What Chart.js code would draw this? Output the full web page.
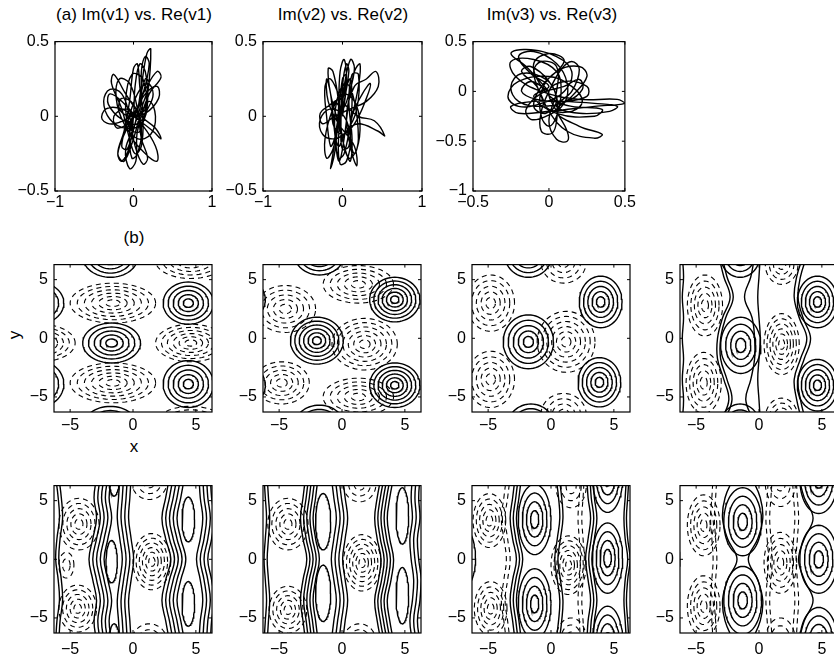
<!DOCTYPE html>
<html>
<head>
<meta charset="utf-8">
<script src="https://cdn.jsdelivr.net/npm/chart.js@4.4.1/dist/chart.umd.min.js"></script>
<style>
  html, body { margin: 0; padding: 0; background: #fff; overflow: hidden; }
  #fig { position: relative; width: 834px; height: 662px; font-family: 'Liberation Sans', Arial, sans-serif; color: #000; }
  .lbl { position: absolute; font-size: 17px; white-space: nowrap; transform: translate(-50%, -50%); }
  canvas { position: absolute; }
</style>
</head>
<body>
<div id="fig">
  <div class="lbl" style="left:134px;top:15px">(a) Im(v1) vs. Re(v1)</div>
  <div class="lbl" style="left:343px;top:15px">Im(v2) vs. Re(v2)</div>
  <div class="lbl" style="left:552px;top:15px">Im(v3) vs. Re(v3)</div>
  <div class="lbl" style="left:134px;top:238px">(b)</div>
  <div class="lbl" style="left:15px;top:335px;transform:translate(-50%,-50%) rotate(-90deg)">y</div>
  <div class="lbl" style="left:134px;top:447px">x</div>
</div>
<script>
// ---- (a) phase portraits: Re / Im samples ----
const re1 = [0.00,0.15,0.12,-0.02,-0.10,-0.05,0.08,0.18,0.22,0.17,0.10,0.02,-0.10,-0.05,0.03,0.05,0.20,0.35,0.30,0.15,0.00,-0.25,-0.40,-0.35,-0.15,0.05,0.25,0.35,0.28,0.10,-0.10,-0.25,-0.28,-0.15,-0.05,0.02,0.10,0.12,0.08,0.05,0.00,-0.05,-0.12,-0.20,-0.12,0.00,0.10,0.20,0.15,0.05,-0.05,0.15,0.30,0.28,0.10,-0.15,-0.30,-0.32,-0.15,0.05,0.18,0.25,0.18,0.05,-0.08,-0.15,-0.08,0.02,0.10,0.10,0.15,0.20,0.12,0.00,-0.20,-0.25,-0.10,0.05,
  0.20,0.28,0.22,0.05,-0.12,-0.22,-0.18,-0.05,0.05,0.10,0.18,0.12,0.02,-0.05,-0.15,-0.30,-0.38,-0.30,-0.10,0.10,0.18,0.15,0.08,0.02,0.00,-0.05,-0.15,-0.20,-0.10,0.05,0.15,0.30,0.32,0.15,-0.05,-0.18,-0.15,0.00,0.10,0.05,-0.02,-0.05,0.00];
const im1 = [0.00,0.05,0.25,0.28,0.10,-0.08,-0.10,0.15,0.45,0.42,0.20,-0.05,-0.22,-0.35,-0.30,-0.10,0.15,0.26,0.30,0.18,0.02,-0.05,-0.02,0.05,0.05,-0.02,-0.10,-0.15,-0.08,0.00,0.15,0.28,0.22,0.05,-0.15,-0.25,-0.20,0.00,0.20,0.35,0.32,0.10,-0.10,-0.25,-0.30,-0.15,0.05,0.22,0.25,0.05,-0.10,-0.25,-0.30,-0.20,-0.05,0.10,0.15,0.08,-0.02,-0.05,0.05,0.15,0.22,0.15,-0.05,-0.20,-0.22,-0.05,0.10,0.30,0.40,0.35,0.15,0.00,-0.08,0.00,0.05,0.00,
  0.10,0.00,-0.12,-0.15,-0.05,0.12,0.25,0.22,0.05,-0.15,-0.28,-0.32,-0.20,0.00,0.15,0.18,0.10,-0.02,-0.08,-0.05,0.10,0.30,0.35,0.20,0.00,-0.20,-0.30,-0.25,-0.10,0.05,0.15,0.20,0.12,0.02,0.00,0.05,0.12,0.08,-0.08,-0.25,-0.28,-0.12,0.00];
const re2 = [0.00,0.05,0.02,-0.03,-0.05,-0.08,-0.04,0.02,0.08,0.15,0.22,0.20,0.10,0.02,-0.05,-0.10,-0.15,-0.20,-0.18,-0.05,0.15,0.18,0.12,0.05,0.15,0.30,0.42,0.45,0.30,0.10,-0.10,-0.25,-0.28,-0.15,0.00,0.05,0.00,-0.05,-0.10,-0.15,-0.12,-0.05,0.05,0.10,0.12,0.10,0.15,0.20,0.15,0.05,-0.05,-0.10,-0.05,0.05,0.20,0.45,0.53,0.40,0.20,0.00,-0.15,-0.22,-0.20,-0.15,-0.10,0.00,0.08,0.05,0.00,-0.02,0.00,0.08,0.12,0.25,0.35,0.30,0.15,0.00,-0.12,-0.10,0.00,
  0.08,0.15,0.10,0.02,-0.05,-0.12,-0.20,-0.22,-0.12,0.00,0.15,0.22,0.18,0.08,0.00,-0.05,-0.12,-0.18,-0.15,-0.05,0.05,0.10,0.12,0.08,0.12,0.20,0.18,0.05,-0.10,-0.25,-0.28,-0.15,0.02,0.10,0.05,-0.03,-0.05,0.00,0.05,0.00];
const im2 = [0.00,0.25,0.38,0.30,0.05,-0.20,-0.30,-0.15,0.10,0.30,0.35,0.20,-0.05,-0.25,-0.28,-0.10,0.15,0.25,0.10,-0.05,-0.20,-0.33,-0.25,0.00,0.20,0.25,0.30,0.20,0.10,0.05,0.00,-0.05,0.02,0.08,0.15,0.28,0.25,0.00,-0.25,-0.35,-0.25,0.00,0.20,0.25,0.10,-0.15,-0.25,-0.15,0.10,0.22,0.15,-0.05,-0.20,-0.10,-0.05,-0.10,-0.13,-0.03,0.00,0.10,0.25,0.20,0.00,-0.20,-0.15,0.05,0.30,0.35,0.20,-0.10,-0.22,-0.20,0.00,0.15,0.22,0.12,-0.05,-0.12,-0.05,0.10,0.05,
  0.15,0.32,0.38,0.20,-0.05,-0.22,-0.28,-0.15,0.05,0.15,0.10,-0.05,-0.22,-0.28,-0.15,0.10,0.30,0.32,0.15,-0.05,-0.25,-0.30,-0.15,0.10,0.28,0.28,0.05,-0.10,-0.15,-0.12,-0.02,0.05,0.00,-0.15,-0.30,-0.32,-0.15,0.10,0.20,0.00];
const re3 = [0.00,-0.15,-0.25,-0.15,0.05,0.15,0.10,-0.05,-0.20,-0.27,-0.20,0.00,0.15,0.22,0.15,0.00,-0.05,-0.10,-0.05,0.05,0.05,0.00,0.05,0.12,0.12,0.05,0.00,0.10,0.25,0.25,0.10,-0.10,-0.25,-0.20,0.00,0.30,0.50,0.45,0.20,-0.05,-0.22,-0.25,-0.10,0.05,0.08,0.05,0.00,-0.05,-0.05,0.05,0.20,0.25,0.15,0.05,0.20,0.35,0.30,0.12,0.00,-0.08,-0.18,-0.12,0.00,0.05,-0.02,-0.10,-0.05,0.10,0.00,-0.10,-0.05,0.05,0.15,0.35,0.30,0.05,-0.10,0.00,
  -0.12,-0.20,-0.10,0.05,0.12,0.10,-0.02,-0.12,-0.15,-0.05,0.10,0.20,0.22,0.12,-0.05,-0.20,-0.25,-0.18,-0.02,0.05,0.05,0.02,-0.05,-0.05,0.00,0.08,0.15,0.20,0.15,0.05,0.20,0.40,0.45,0.30,0.10,-0.08,-0.18,-0.12,0.00];
const im3 = [0.00,0.25,0.38,0.42,0.35,0.20,0.00,-0.12,-0.15,-0.05,0.10,0.15,0.05,-0.10,-0.20,-0.18,-0.05,0.20,0.30,0.25,0.00,-0.30,-0.48,-0.50,-0.40,-0.20,0.00,0.10,0.05,-0.05,-0.10,-0.10,-0.15,-0.22,-0.20,-0.15,-0.12,-0.08,-0.08,0.00,0.15,0.30,0.32,0.20,0.00,-0.25,-0.35,-0.25,0.00,0.20,0.25,0.15,-0.05,-0.20,-0.35,-0.43,-0.47,-0.40,-0.20,0.05,0.20,0.25,0.10,-0.10,-0.22,-0.15,0.05,0.30,0.38,0.28,0.05,-0.10,-0.15,-0.18,-0.25,-0.22,-0.05,0.05,
  0.18,0.35,0.40,0.28,0.08,-0.12,-0.25,-0.28,-0.18,-0.02,0.05,0.12,0.02,-0.10,-0.15,-0.10,0.05,0.18,0.12,-0.05,-0.30,-0.42,-0.40,-0.20,0.00,0.22,0.30,0.22,0.00,-0.15,-0.22,-0.20,-0.15,-0.12,-0.10,-0.08,0.00,0.10,0.00];

// ---- (b) contour panels ----
// closed families: [cx, cy, rxOuter, ryOuter, levels, dashed]
// bands: [x at each yKnot, offsets of the parallel lines, dashed]
const yKnots = [-7, -5.25, -3.5, -1.75, 0, 1.75, 3.5, 5.25, 7];

const cellsB1 = [
  [-1.7,-0.4,2.3,1.7,5,0],[4.4,3.0,2.0,1.8,5,0],[4.4,-3.9,2.0,2.0,5,0],
  [-1.8,7.0,2.2,1.8,5,0],[-1.8,-7.6,2.2,1.8,5,0],[-7.6,3.0,2.1,1.8,5,0],[-7.6,-3.9,2.1,2.0,5,0],
  [-1.6,3.0,3.4,1.7,6,1],[-1.6,-3.8,3.4,1.7,6,1],[4.6,-0.4,2.8,1.6,6,1],
  [-7.4,-0.4,2.8,1.6,6,1],[4.6,6.6,2.8,1.5,5,1],[4.6,-7.3,2.8,1.5,5,1]
];
const bandsB1 = [];

const cellsB2 = [
  [-2.0,-0.2,2.1,2.0,6,0],[4.2,3.3,2.0,1.9,6,0],[4.2,-4.0,2.0,1.9,6,0],
  [-1.8,7.2,2.0,1.8,5,0],[-1.8,-7.5,2.0,1.8,5,0],[-8.3,3.3,2.2,2.0,5,0],[-8.3,-4.0,2.2,2.0,5,0],
  [1.8,-0.5,2.6,2.2,6,1],[-4.5,2.5,2.4,2.0,5,1],[-4.8,-3.8,2.2,1.8,5,1],
  [1.3,4.6,2.8,1.6,5,1],[1.3,-5.0,2.8,1.6,5,1]
];
const bandsB2 = [];

const cellsB3 = [
  [-1.8,-0.3,2.0,2.3,5,0],[3.95,3.1,1.7,2.2,5,0],[3.85,-3.75,1.7,2.1,5,0],
  [-1.8,7.2,1.9,2.0,5,0],[-1.6,-7.6,1.9,2.0,5,0],[-8.4,3.1,2.0,2.2,4,0],[-8.4,-3.8,2.0,2.2,4,0],
  [1.2,-0.3,2.3,2.6,6,1],[-4.8,3.0,1.9,2.4,5,1],[-4.8,-3.5,1.9,2.4,5,1],
  [1.0,6.5,1.8,1.8,4,1],[1.0,-6.5,1.8,1.8,4,1]
];
const bandsB3 = [];

const cellsB4 = [
  [-1.45,-0.6,1.6,2.4,4,0],[4.65,3.1,1.6,2.2,5,0],[4.65,-4.0,1.6,2.2,5,0],
  [-1.5,7.2,1.6,2.0,4,0],[-1.5,-7.6,1.6,2.0,4,0],
  [1.8,-0.5,1.4,2.6,6,1],[-4.3,2.8,1.4,2.6,5,1],[-4.4,-3.8,1.4,2.6,5,1],
  [1.8,6.3,1.3,1.7,4,1],[1.8,-6.8,1.3,1.7,4,1]
];
const bandsB4 = [
  [[0.1,0.0,-0.1,0.0,0.1,0.0,-0.1,0.0,0.1],[0],0],
  [[-6.1,-6.0,-6.1,-6.0,-6.1,-6.0,-6.1,-6.0,-6.1],[0],0],
  [[-3.0,-2.4,-2.8,-3.3,-3.3,-2.9,-2.3,-2.8,-3.2],[0,0.25],0],
  [[-0.2,-0.8,-0.4,-0.1,-0.1,-0.3,-0.9,-0.4,-0.1],[-0.25],0],
  [[3.4,3.0,2.8,3.3,3.8,3.2,2.8,3.0,3.5],[0,0.3],0]
];

const cellsC1 = [
  [-1.7,-0.2,0.45,1.8,1,0],[-1.5,6.9,0.4,1.5,1,0],[-1.5,-7.0,0.4,1.5,1,0],
  [4.4,3.4,0.5,1.9,1,0],[4.4,-3.8,0.5,1.9,1,0],
  [-4.3,3.0,1.6,2.2,5,1],[-4.4,-4.2,1.5,2.0,5,1],[1.5,-0.2,1.5,2.4,6,1],
  [1.3,6.6,1.4,1.5,3,1],[1.3,-7.0,1.4,1.5,3,1],[-5.3,-0.5,0.6,1.1,2,1]
];
const bandsC1 = [
  [[-6.0,-5.9,-5.7,-5.8,-6.0,-5.9,-5.7,-5.8,-6.0],[-0.15,0.1],0],
  [[-2.3,-2.5,-2.3,-2.6,-2.9,-2.6,-2.3,-2.5,-2.3],[-0.6,-0.3,0,0.3,0.6],0],
  [[-0.6,-0.7,-0.8,-0.6,-0.4,-0.6,-0.8,-0.7,-0.6],[-0.45,-0.15,0.15,0.45],0],
  [[3.5,3.2,2.9,3.2,3.6,3.2,2.9,3.2,3.5],[-0.6,-0.3,0,0.3,0.6],0],
  [[5.7,5.8,6.0,5.8,5.5,5.8,6.0,5.8,5.7],[-0.45,-0.15,0.15,0.45],0]
];

const cellsC2 = [
  [-1.5,3.2,0.6,2.4,1,0],[-1.5,-2.9,0.6,2.4,1,0],
  [4.8,3.7,0.5,2.4,1,0],[4.8,-3.1,0.5,2.4,1,0],
  [-4.3,3.0,1.6,2.2,5,1],[-4.3,-4.3,1.5,2.0,5,1],[1.6,-0.3,1.5,2.4,6,1],
  [1.4,6.4,1.3,1.5,3,1],[1.4,-7.0,1.3,1.5,3,1]
];
const bandsC2 = [
  [[-6.1,-6.0,-5.9,-6.0,-6.1,-6.0,-5.9,-6.0,-6.1],[-0.1,0.15],0],
  [[-2.4,-2.6,-2.8,-2.6,-2.3,-2.6,-2.8,-2.6,-2.4],[-0.5,-0.25,0,0.25,0.5],0],
  [[-0.4,-0.2,0.0,-0.2,-0.4,-0.2,0.0,-0.2,-0.4],[-0.45,-0.15,0.15,0.45],0],
  [[3.6,3.3,3.1,3.4,3.6,3.3,3.1,3.3,3.6],[-0.5,-0.25,0,0.25,0.5],0],
  [[5.9,5.7,5.9,6.0,5.8,5.7,5.9,5.8,5.9],[-0.3,0,0.3],0]
];

const cellsC3 = [
  [-1.3,3.4,1.3,3.0,4,0],[-1.3,-3.8,1.3,3.0,4,0],
  [4.5,0.1,1.2,3.0,4,0],[4.5,7.0,1.2,3.0,4,0],[4.5,-7.0,1.2,3.0,4,0],[-7.4,0.1,1.4,3.0,3,0],
  [-4.9,3.3,1.3,2.3,5,1],[-4.8,-4.2,1.3,2.3,5,1],[1.4,-0.5,1.4,2.5,6,1],
  [1.6,6.2,1.2,1.8,3,1],[1.6,-6.8,1.2,1.8,3,1]
];
const bandsC3 = [
  [[-2.6,-2.8,-3.0,-2.8,-2.5,-2.8,-3.0,-2.8,-2.6],[-0.25,0,0.25],0],
  [[0.4,0.6,0.7,0.5,0.3,0.5,0.7,0.6,0.4],[0,0.25],0],
  [[3.1,3.2,3.4,3.2,3.0,3.2,3.4,3.2,3.1],[-0.25,0,0.25],0],
  [[6.0,5.9,5.8,5.9,6.1,5.9,5.8,5.9,6.0],[0,0.2],0],
  [[-3.4,-3.6,-3.8,-3.6,-3.4,-3.6,-3.8,-3.6,-3.4],[-0.15,0.15],1],
  [[2.5,2.4,2.3,2.4,2.5,2.4,2.3,2.4,2.5],[-0.15,0.15],1]
];

const cellsC4 = [
  [-1.3,3.2,1.5,2.9,4,0],[-1.3,-3.5,1.5,2.9,4,0],
  [4.75,0.0,1.5,2.9,4,0],[4.75,6.8,1.5,2.9,4,0],[4.75,-7.0,1.5,2.9,4,0],[-7.8,0.0,1.5,2.9,3,0],
  [-4.4,2.9,1.3,2.6,5,1],[-4.4,-4.0,1.3,2.6,5,1],[1.7,-0.3,1.3,2.6,5,1],
  [1.7,6.5,1.2,2.0,3,1],[1.7,-7.0,1.2,2.0,3,1]
];
const bandsC4 = [
  [[-2.0,-2.7,-2.9,-2.5,-1.75,-2.5,-2.9,-2.7,-2.0],[0],0],
  [[-0.6,0.1,0.3,-0.1,-0.85,-0.1,0.3,0.1,-0.6],[0],0],
  [[3.15,3.6,4.3,3.6,3.15,3.6,4.3,3.6,3.15],[0],0],
  [[-3.5,-3.6,-3.7,-3.6,-3.5,-3.6,-3.7,-3.6,-3.5],[-0.15,0.15],1],
  [[0.9,0.8,0.7,0.8,0.9,0.8,0.7,0.8,0.9],[-0.15,0.15],1],
  [[2.8,2.9,3.0,2.9,2.8,2.9,3.0,2.9,2.8],[-0.15,0.15],1]
];

const PI2 = 2 * Math.PI;

function traceSet(re, im) {
  return [{
    data: re.map((x, i) => ({ x: x, y: im[i] })),
    showLine: true, borderColor: '#000', borderWidth: 1.4, tension: 0.4, pointRadius: 0
  }];
}

function contourSets(cells, bands) {
  const sets = [];
  cells.forEach(c => {
    const [cx, cy, rx, ry, n, dashed] = c;
    for (let k = 1; k <= n; k++) {
      const pts = [];
      for (let i = 0; i <= 64; i++) {
        const t = i / 64 * PI2;
        pts.push({ x: cx + rx * k / n * Math.cos(t), y: cy + ry * k / n * Math.sin(t) });
      }
      sets.push({
        data: pts, showLine: true, borderColor: '#000', pointRadius: 0, tension: 0,
        borderWidth: dashed ? 1.1 : 1.4, borderDash: dashed ? [5, 4] : []
      });
    }
  });
  bands.forEach(b => {
    const [knots, offsets, dashed] = b;
    offsets.forEach(off => {
      sets.push({
        data: knots.map((x, i) => ({ x: x + off, y: yKnots[i] })),
        showLine: true, borderColor: '#000', pointRadius: 0, tension: 0.4,
        borderWidth: dashed ? 1.1 : 1.4, borderDash: dashed ? [5, 4] : []
      });
    });
  });
  return sets;
}

// frame plus small inward ticks on all four sides
const boxPlugin = {
  id: 'box',
  afterDraw(chart) {
    const { ctx, chartArea: a, scales } = chart;
    ctx.save();
    ctx.strokeStyle = '#000';
    ctx.lineWidth = 1.2;
    ctx.strokeRect(a.left, a.top, a.right - a.left, a.bottom - a.top);
    ctx.lineWidth = 1;
    ctx.beginPath();
    scales.x.ticks.forEach(t => {
      const px = scales.x.getPixelForValue(t.value);
      ctx.moveTo(px, a.bottom); ctx.lineTo(px, a.bottom - 3);
      ctx.moveTo(px, a.top); ctx.lineTo(px, a.top + 3);
    });
    scales.y.ticks.forEach(t => {
      const py = scales.y.getPixelForValue(t.value);
      ctx.moveTo(a.left, py); ctx.lineTo(a.left + 3, py);
      ctx.moveTo(a.right, py); ctx.lineTo(a.right - 3, py);
    });
    ctx.stroke();
    ctx.restore();
  }
};

const fmt = v => String(v).replace('-', '\u2212');

function makePanel(box, xr, yr, xt, yt, datasets, xPad) {
  const L = 52, T = 8, R = 8, B = 30;
  const canvas = document.createElement('canvas');
  canvas.width = box[2] + L + R;
  canvas.height = box[3] + T + B;
  canvas.style.left = (box[0] - L) + 'px';
  canvas.style.top = (box[1] - T) + 'px';
  document.getElementById('fig').appendChild(canvas);

  const tickFont = { family: "'Liberation Sans', Arial, sans-serif", size: 16 };
  new Chart(canvas, {
    type: 'scatter',
    data: { datasets: datasets },
    options: {
      responsive: false,
      animation: false,
      events: [],
      layout: { padding: { top: T, right: R, left: 0, bottom: 0 } },
      plugins: { legend: { display: false }, tooltip: { enabled: false } },
      scales: {
        x: {
          min: xr[0], max: xr[1],
          grid: { display: false, drawTicks: false },
          border: { display: false },
          ticks: { color: '#000', font: tickFont, padding: xPad, maxRotation: 0, callback: fmt },
          afterBuildTicks: s => { s.ticks = xt.map(v => ({ value: v })); },
          afterFit: s => { s.height = B; }
        },
        y: {
          min: yr[0], max: yr[1],
          grid: { display: false, drawTicks: false },
          border: { display: false },
          ticks: { color: '#000', font: tickFont, padding: 6, callback: fmt },
          afterBuildTicks: s => { s.ticks = yt.map(v => ({ value: v })); },
          afterFit: s => { s.width = L; }
        }
      }
    },
    plugins: [boxPlugin]
  });
}

// row (a)
makePanel([55, 34, 157, 157], [-1, 1], [-0.5, 0.5], [-1, 0, 1], [-0.5, 0, 0.5], traceSet(re1, im1), 2);
makePanel([263, 34, 159, 157], [-1, 1], [-0.5, 0.5], [-1, 0, 1], [-0.5, 0, 0.5], traceSet(re2, im2), 2);
makePanel([473, 34, 157, 157], [-0.5, 0.5], [-1, 0.5], [-0.5, 0, 0.5], [-1, -0.5, 0, 0.5], traceSet(re3, im3), 2);

// rows (b)
const dom = [-PI2, PI2];
const tk = [-5, 0, 5];
const colX = [54, 263, 472, 680];
const rowB = [[cellsB1, bandsB1], [cellsB2, bandsB2], [cellsB3, bandsB3], [cellsB4, bandsB4]];
const rowC = [[cellsC1, bandsC1], [cellsC2, bandsC2], [cellsC3, bandsC3], [cellsC4, bandsC4]];
rowB.forEach((p, i) => makePanel([colX[i], 257, 158, 155], dom, dom, tk, tk, contourSets(p[0], p[1]), 4));
rowC.forEach((p, i) => makePanel([colX[i], 478, 158, 155], dom, dom, tk, tk, contourSets(p[0], p[1]), 7));
</script>
</body>
</html>
